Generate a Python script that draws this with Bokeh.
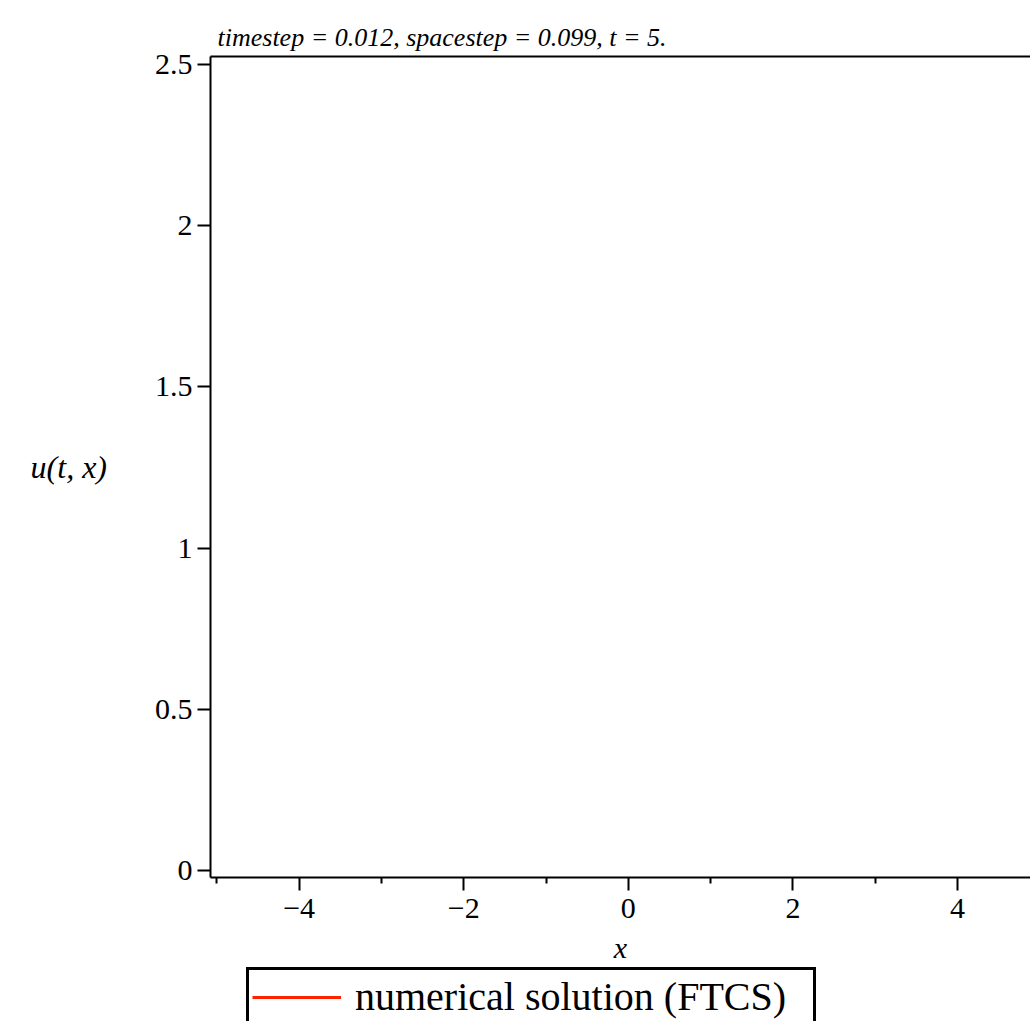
import numpy as np
from bokeh.plotting import figure
from bokeh.models import Range1d, LinearAxis, FixedTicker, Legend, LegendItem
from bokeh.layouts import column
from bokeh.embed import file_html
from bokeh.resources import INLINE

# ---- data: the FTCS solution lies entirely outside the visible window
# (no point of it can be read off the picture), kept as a not-a-number placeholder ----
x_values = np.array([np.nan])
u_values = np.array([np.nan])

x_ticks = [-4, -2, 0, 2, 4]
x_tick_labels = ["\u22124", "\u22122", "0", "2", "4"]
x_minor_ticks = [-5, -3, -1, 1, 3]
y_ticks = [0, 0.5, 1, 1.5, 2, 2.5]
y_tick_labels = ["0", "0.5", "1", "1.5", "2", "2.5"]

series_label = "numerical solution (FTCS)"
title_text = "timestep = 0.012, spacestep = 0.099, t = 5."
x_label = "x"
y_label = "u(t, x)"

FONT = "Liberation Serif"
LINE_COLOR = "#ff2200"

# ---------------- main plot ----------------
p = figure(width=1030, height=966,
           x_range=Range1d(-5.077, 4.887), y_range=Range1d(-0.0216, 2.525),
           output_backend="svg", toolbar_location=None,
           min_border_left=210, min_border_right=0,
           min_border_top=56, min_border_bottom=86)
p.outline_line_color = None
p.grid.visible = False
p.background_fill_color = "white"
p.border_fill_color = "white"

p.line(x=x_values, y=u_values, line_color=LINE_COLOR, line_width=3)

# title
p.title.text = title_text
p.title.text_font = FONT
p.title.text_font_size = "26px"
p.title.text_font_style = "italic"
p.title.text_color = "black"
p.title.align = "left"
p.title.offset = 7
p.title.standoff = 9

# x axis
xa = p.xaxis[0]
xa.ticker = FixedTicker(ticks=x_ticks, minor_ticks=x_minor_ticks)
xa.major_label_overrides = {k: v for k, v in zip(x_ticks, x_tick_labels)}
xa.axis_line_width = 2
xa.axis_line_color = "black"
xa.major_tick_line_width = 2
xa.minor_tick_line_width = 2
xa.major_tick_line_color = "black"
xa.minor_tick_line_color = "black"
xa.major_tick_in = 0
xa.major_tick_out = 13
xa.minor_tick_in = 0
xa.minor_tick_out = 6
xa.major_label_standoff = 8
xa.major_label_text_font = FONT
xa.major_label_text_font_size = "30px"
xa.major_label_text_color = "black"
xa.axis_label = x_label
xa.axis_label_text_font = FONT
xa.axis_label_text_font_size = "30px"
xa.axis_label_text_font_style = "italic"
xa.axis_label_text_color = "black"
xa.axis_label_standoff = 10

# y axis
ya = p.yaxis[0]
ya.ticker = FixedTicker(ticks=y_ticks, minor_ticks=[])
ya.major_label_overrides = {k: v for k, v in zip(y_ticks, y_tick_labels)}
ya.axis_line_width = 2
ya.axis_line_color = "black"
ya.major_tick_line_width = 2
ya.major_tick_line_color = "black"
ya.minor_tick_line_color = None
ya.major_tick_in = 0
ya.major_tick_out = 13
ya.major_label_standoff = 5
ya.major_label_text_font = FONT
ya.major_label_text_font_size = "30px"
ya.major_label_text_color = "black"
ya.axis_label = y_label
ya.axis_label_orientation = "horizontal"
ya.axis_label_text_font = FONT
ya.axis_label_text_font_size = "32px"
ya.axis_label_text_font_style = "italic"
ya.axis_label_text_color = "black"
ya.axis_label_standoff = 45

# top border line
top = LinearAxis(ticker=FixedTicker(ticks=[]), major_label_text_font_size="0px",
                 major_tick_line_color=None, minor_tick_line_color=None,
                 axis_line_width=2, axis_line_color="black")
p.add_layout(top, "above")

# ---------------- legend strip (frame is aligned under the main frame) ----------------
q = figure(width=1030, height=55, output_backend="svg", toolbar_location=None,
           x_axis_type=None, y_axis_type=None, min_border=0)
q.outline_line_color = None
q.background_fill_color = "white"
q.border_fill_color = "white"
lr = q.line(x=x_values, y=u_values, line_color=LINE_COLOR, line_width=3)

legend = Legend(items=[LegendItem(label=series_label, renderers=[lr])],
                location=(36, -5), orientation="vertical",
                border_line_color="black", border_line_width=3, border_line_alpha=1.0,
                padding=3, margin=0, spacing=0,
                label_text_font=FONT, label_text_font_size="40px",
                label_text_color="black", label_standoff=14, label_width=455,
                glyph_width=89, glyph_height=20, label_height=36,
                background_fill_color="white", background_fill_alpha=1)
q.add_layout(legend)

page = column(p, q, spacing=0)
open("out.html", "w").write(file_html(page, INLINE))
